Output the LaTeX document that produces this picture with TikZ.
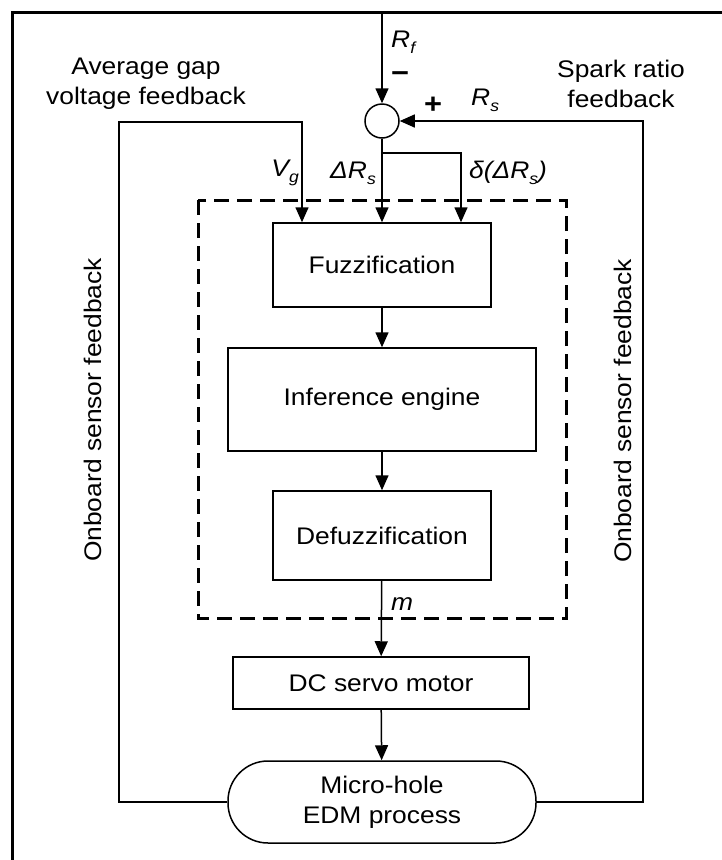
\documentclass[tikz,border=0pt]{standalone}
\usepackage{fontspec}
\setmainfont[FakeStretch=1.1]{Liberation Sans}
\usetikzlibrary{arrows.meta}
\newcommand\lsub[1]{\raisebox{-0.5ex}{\fontsize{16}{16}\selectfont\itshape #1}}
\begin{document}
\begin{tikzpicture}[x=1pt,y=-1pt,
  every node/.style={font=\fontsize{24}{30}\selectfont},
  blk/.style={draw,line width=1.5pt,inner sep=0pt},
  conn/.style={line width=1.5pt},
  arr/.style={conn,-{Triangle[length=15pt,width=13pt]}},
  lbl/.style={font=\fontsize{24}{30}\selectfont\itshape,inner sep=0pt},
  sgn/.style={font=\fontsize{28}{28}\selectfont\bfseries,inner sep=0pt}]
\useasboundingbox (0,0) rectangle (722,860);
% frame (only top and left visible)
\draw[line width=3pt] (12,862) -- (12,12) -- (724,12);
% dashed controller box
\draw[line width=3pt,dash pattern=on 15pt off 8pt] (198,200) rectangle (566,618);
% blocks
\node[blk,minimum width=218pt,minimum height=84pt] (fuzz) at (382,265) {Fuzzification};
\node[blk,minimum width=308pt,minimum height=103pt] (inf) at (382,399.5) {Inference engine};
\node[blk,minimum width=218pt,minimum height=89pt] (defuzz) at (382,535.5) {Defuzzification};
\node[blk,minimum width=296pt,minimum height=52pt] (dc) at (381,683) {DC servo motor};
\node[blk,minimum width=308pt,minimum height=82pt,rounded corners=40pt,align=center] (edm) at (382,802) {Micro-hole\\EDM process};
\node[draw,circle,line width=1.5pt,minimum size=34pt,inner sep=0pt] (sum) at (382,121) {};
% coordinates
\coordinate (top) at (382,12);
\coordinate (br) at (382,153);
\coordinate (brR) at (461,153);
\coordinate (lb) at (119,802);
\coordinate (lt) at (119,122);
\coordinate (vg) at (302,122);
\coordinate (rb) at (643,802);
\coordinate (rt) at (643,121);
% connectors
\draw[arr] (top) -- (sum.north);
\draw[arr] (sum.south) -- (fuzz.north);
\draw[arr] (br) -- (brR) -- (brR |- fuzz.north);
\draw[arr] (edm.west) -- (lb) -- (lt) -- (vg) -- (vg |- fuzz.north);
\draw[arr] (edm.east) -- (rb) -- (rt) -- (sum.east);
\draw[arr] (fuzz) -- (inf);
\draw[arr] (inf) -- (defuzz);
\draw[arr] (defuzz) -- (dc);
\draw[arr] (dc) -- (edm);
% labels
\node[lbl,anchor=west] (rf) at (391,42) {R\lsub{f}};
\node[sgn] (minus) at (400,77) {−};
\node[sgn] (plus) at (433,105) {+};
\node[lbl,anchor=west] (rs) at (471,100) {R\lsub{s}};
\node[lbl,anchor=east] (vgl) at (299,173) {V\lsub{g}};
\node[lbl,anchor=east] (drs) at (376,173) {ΔR\lsub{s}};
\node[lbl,anchor=west] (ddrs) at (469,173) {δ(ΔR\lsub{s})};
\node[lbl,anchor=west] (m) at (391,604) {m};
\node[align=center] (avg) at (146,84) {Average gap\\voltage feedback};
\node[align=center] (spark) at (621,84) {Spark ratio\\feedback};
\node[rotate=90] (onl) at (93,410) {Onboard sensor feedback};
\node[rotate=90] (onr) at (623,411) {Onboard sensor feedback};
\end{tikzpicture}
\end{document}
